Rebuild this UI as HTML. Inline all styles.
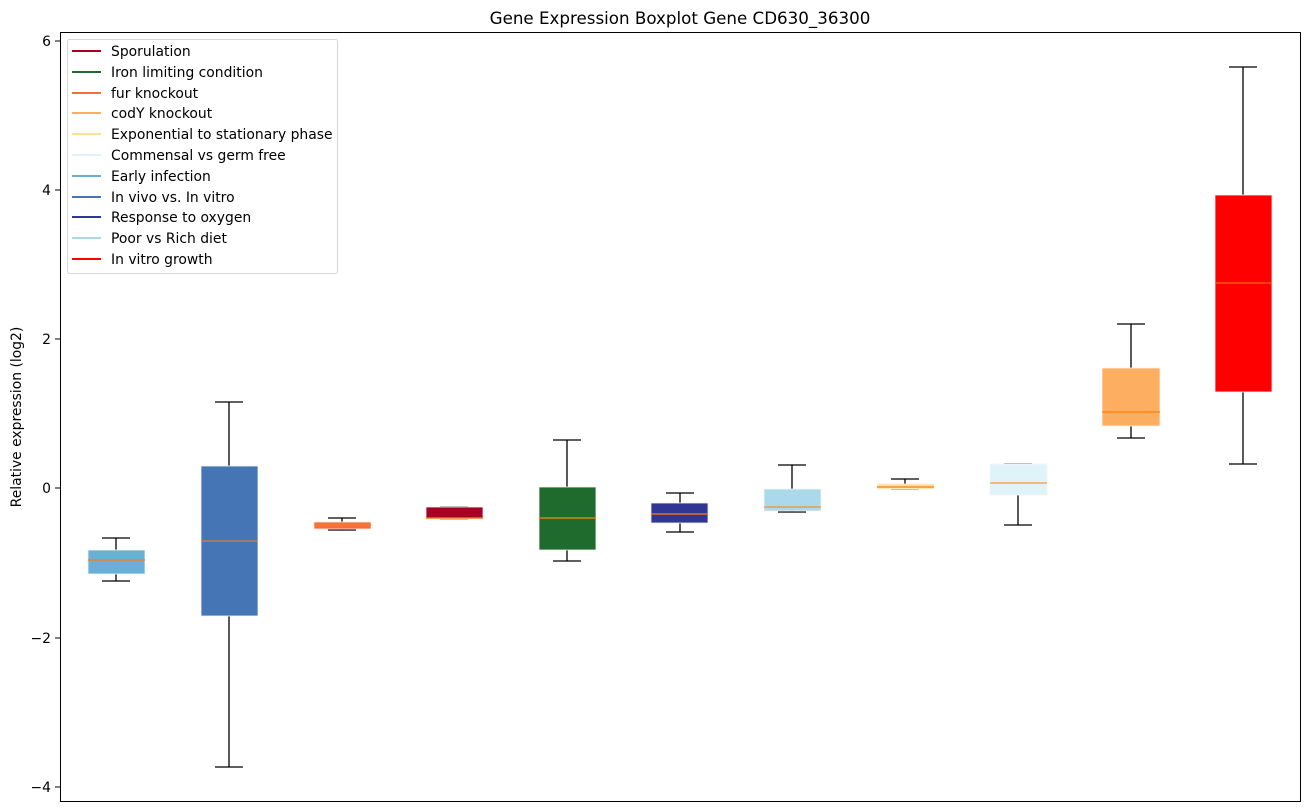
<!DOCTYPE html>
<html><head><meta charset="utf-8"><style>
html,body{margin:0;padding:0;background:#fff;}
svg{display:block;font-family:"DejaVu Sans","Liberation Sans",sans-serif;}
</style></head><body>
<svg width="1309" height="812" viewBox="0 0 1309 812" xmlns="http://www.w3.org/2000/svg">
<rect width="1309" height="812" fill="#fff"/>
<text x="680" y="24" font-size="16.7" text-anchor="middle" fill="#000">Gene Expression Boxplot Gene CD630_36300</text>
<text transform="translate(21,417) rotate(-90)" font-size="13.9" text-anchor="middle" fill="#000">Relative expression (log2)</text>
<g font-size="13.9" text-anchor="end" fill="#000">
<text x="51" y="46">6</text><text x="51" y="195">4</text><text x="51" y="344">2</text><text x="51" y="493">0</text><text x="51" y="643">−2</text><text x="51" y="792">−4</text>
</g>
<g stroke="#000" stroke-width="1">
<line x1="55" y1="41" x2="60" y2="41"/><line x1="55" y1="190" x2="60" y2="190"/><line x1="55" y1="339" x2="60" y2="339"/><line x1="55" y1="488" x2="60" y2="488"/><line x1="55" y1="638" x2="60" y2="638"/><line x1="55" y1="787" x2="60" y2="787"/>
</g>
<g stroke="#000" stroke-width="1.3" fill="none">
<path d="M116 538V550M116 574V581M102 538H130M102 581H130"/>
<path d="M229 402V466M229 616V767M215 402H243M215 767H243"/>
<path d="M342 518V522M342 529V530M328 518H356M328 530H356"/>
<path d="M454 507V507M454 519V519M440 507H468M440 519H468"/>
<path d="M567 440V487M567 550V561M553 440H581M553 561H581"/>
<path d="M680 493V503M680 523V532M666 493H694M666 532H694"/>
<path d="M792 465V489M792 511V512M778 465H806M778 512H806"/>
<path d="M905 479V484M905 489V489M891 479H919M891 489H919"/>
<path d="M1018 464V464M1018 495V525M1004 464H1032M1004 525H1032"/>
<path d="M1131 324V368M1131 426V438M1117 324H1145M1117 438H1145"/>
<path d="M1243 67V195M1243 392V464M1229 67H1257M1229 464H1257"/>
</g>
<g stroke="#f4f4f4" stroke-width="0.8">
<rect x="88" y="550" width="57" height="24" fill="#6baed6"/>
<rect x="201" y="466" width="57" height="150" fill="#4575b4"/>
<rect x="314" y="522" width="57" height="7" fill="#f46d43"/>
<rect x="426" y="507" width="57" height="12" fill="#a50026"/>
<rect x="539" y="487" width="57" height="63" fill="#1f6b2e"/>
<rect x="651" y="503" width="57" height="20" fill="#313695"/>
<rect x="764" y="489" width="57" height="22" fill="#abd9e9"/>
<rect x="877" y="484" width="57" height="5" fill="#fee090"/>
<rect x="990" y="464" width="57" height="31" fill="#e0f3f8"/>
<rect x="1102" y="368" width="58" height="58" fill="#fdae61"/>
<rect x="1215" y="195" width="57" height="197" fill="#ff0000"/>
</g>
<g stroke="#ff7f0e" stroke-width="1.3">
<line x1="88" y1="560" x2="145" y2="560"/>
<line x1="201" y1="541" x2="258" y2="541" stroke-width="1"/>
<line x1="314" y1="525" x2="371" y2="525"/>
<line x1="426" y1="518" x2="483" y2="518"/>
<line x1="539" y1="518" x2="596" y2="518"/>
<line x1="651" y1="514" x2="708" y2="514"/>
<line x1="764" y1="507" x2="821" y2="507" stroke-width="1"/>
<line x1="877" y1="487" x2="934" y2="487"/>
<line x1="990" y1="483" x2="1047" y2="483" stroke-width="1"/>
<line x1="1102" y1="412" x2="1160" y2="412"/>
<line x1="1215" y1="283" x2="1272" y2="283" stroke-width="1"/>
</g>
<rect x="60.5" y="32.5" width="1240" height="769" fill="none" stroke="#000" stroke-width="1"/>
<rect x="67.5" y="39.5" width="270" height="234" rx="2" fill="#fff" fill-opacity="0.85" stroke="#d6d6d6"/>
<g stroke-width="2">
<line x1="72" y1="51" x2="101" y2="51" stroke="#a50026"/>
<line x1="72" y1="72" x2="101" y2="72" stroke="#1f6b2e"/>
<line x1="72" y1="93" x2="101" y2="93" stroke="#f46d43"/>
<line x1="72" y1="113" x2="101" y2="113" stroke="#fdae61"/>
<line x1="72" y1="134" x2="101" y2="134" stroke="#fee090"/>
<line x1="72" y1="155" x2="101" y2="155" stroke="#e0f3f8"/>
<line x1="72" y1="176" x2="101" y2="176" stroke="#6baed6"/>
<line x1="72" y1="197" x2="101" y2="197" stroke="#4575b4"/>
<line x1="72" y1="217" x2="101" y2="217" stroke="#313695"/>
<line x1="72" y1="238" x2="101" y2="238" stroke="#abd9e9"/>
<line x1="72" y1="259" x2="101" y2="259" stroke="#ff0000"/>
</g>
<g font-size="13.9" fill="#000">
<text x="111" y="56">Sporulation</text>
<text x="111" y="77">Iron limiting condition</text>
<text x="111" y="98">fur knockout</text>
<text x="111" y="118">codY knockout</text>
<text x="111" y="139">Exponential to stationary phase</text>
<text x="111" y="160">Commensal vs germ free</text>
<text x="111" y="181">Early infection</text>
<text x="111" y="202">In vivo vs. In vitro</text>
<text x="111" y="222">Response to oxygen</text>
<text x="111" y="243">Poor vs Rich diet</text>
<text x="111" y="264">In vitro growth</text>
</g>
</svg>
</body></html>
